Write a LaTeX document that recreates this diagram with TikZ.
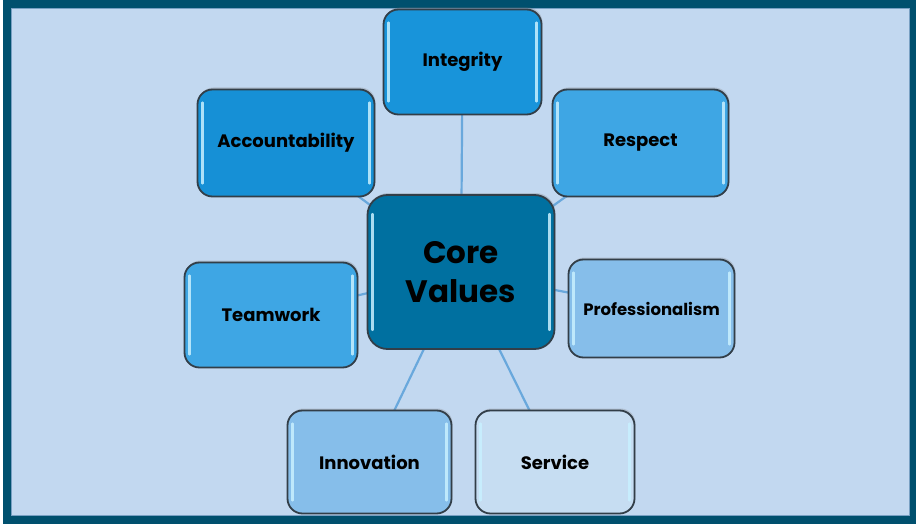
\documentclass[tikz,border=0pt]{standalone}
\usepackage{fontspec}
\setmainfont{Poppins}
\usetikzlibrary{shadows}
\definecolor{frameC}{RGB}{0,80,110}
\definecolor{bgC}{RGB}{194,216,240}
\definecolor{innerEdge}{RGB}{120,160,195}
\definecolor{lineC}{RGB}{105,168,220}
\definecolor{edgeC}{RGB}{50,62,72}
\definecolor{cInt}{RGB}{24,148,218}
\definecolor{cAcc}{RGB}{22,144,214}
\definecolor{cRes}{RGB}{62,166,228}
\definecolor{cTeam}{RGB}{62,166,228}
\definecolor{cPro}{RGB}{134,190,234}
\definecolor{cInn}{RGB}{134,190,234}
\definecolor{cSer}{RGB}{198,221,242}
\definecolor{cCore}{RGB}{0,112,160}
\definecolor{hlC}{RGB}{200,240,255}
\tikzset{
  valbox/.style={rectangle, rounded corners=15, draw=edgeC, line width=1.8,
    font=\bfseries\fontsize{18}{21}\selectfont, text=black, inner sep=0,
    drop shadow={opacity=0.3, shadow xshift=1, shadow yshift=-2}},
  corebox/.style={valbox, rounded corners=20, font=\bfseries\fontsize{31}{39}\selectfont, align=center},
  link/.style={draw=lineC, line width=2.2},
  hl/.style={draw=hlC, line width=2.5, line cap=round, opacity=0.85},
}
\newcommand\glint[2][14]{%
  \draw[hl] ([xshift=6,yshift=-#1]#2.north west) -- ([xshift=6,yshift=#1]#2.south west);
  \draw[hl] ([xshift=-6,yshift=-#1]#2.north east) -- ([xshift=-6,yshift=#1]#2.south east);}
\begin{document}
\begin{tikzpicture}[x=1pt,y=-1pt]
\useasboundingbox (0,0) rectangle (916,524);
\fill[white] (0,0) rectangle (916,524);
\fill[frameC] (3,0) rectangle (916,524);
\fill[bgC] (11,8) rectangle (910,516);
\draw[innerEdge, line width=1] (11.5,8.5) rectangle (909.5,515.5);
% node placement (centre, size)
\coordinate (pInt) at (462.5,62);
\coordinate (pAcc) at (286,143);
\coordinate (pRes) at (640.5,143);
\coordinate (pTeam) at (271,315);
\coordinate (pPro) at (651.5,308.5);
\coordinate (pInn) at (369.5,462);
\coordinate (pSer) at (555,462);
\coordinate (pCore) at (461,272);
% connectors
\foreach \p in {pInt,pAcc,pRes,pTeam,pPro,pInn,pSer} \draw[link] (pCore) -- (\p);
% boxes
\node[valbox, fill=cInt, minimum width=158, minimum height=105] (int) at (pInt) {Integrity};
\node[valbox, fill=cAcc, minimum width=177, minimum height=107] (acc) at (pAcc) {Accountability};
\node[valbox, fill=cRes, minimum width=176, minimum height=107] (res) at (pRes) {Respect};
\node[valbox, fill=cTeam, minimum width=173, minimum height=105] (team) at (pTeam) {Teamwork};
\node[valbox, fill=cPro, minimum width=166, minimum height=98, font=\bfseries\fontsize{16.5}{20}\selectfont] (pro) at (pPro) {Professionalism};
\node[valbox, fill=cInn, minimum width=164, minimum height=103] (inn) at (pInn) {Innovation};
\node[valbox, fill=cSer, minimum width=159, minimum height=103] (ser) at (pSer) {Service};
\node[corebox, fill=cCore, minimum width=187, minimum height=154] (core) at (pCore) {Core\\Values};
\foreach \n in {int,acc,res,team,pro,inn,ser} {\glint{\n}}
\glint[20]{core}
\end{tikzpicture}
\end{document}
